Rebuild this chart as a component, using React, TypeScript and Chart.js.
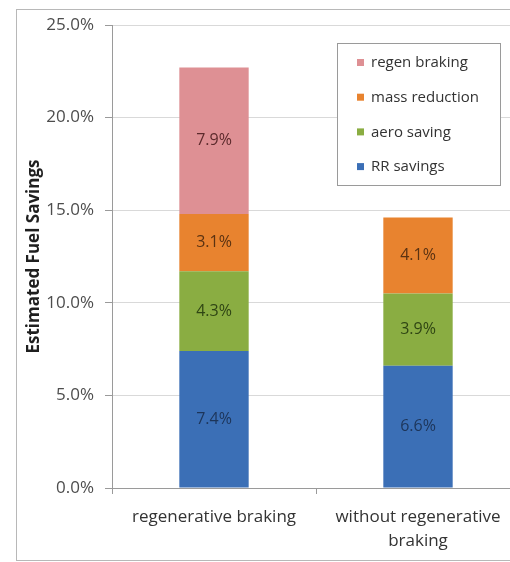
import React, { useEffect, useRef } from "react";
import { Chart, registerables } from "chart.js";

Chart.register(...registerables);

const categories: (string | string[])[] = ["regenerative braking", ["without regenerative", "braking"]];
const seriesNames = ["RR savings", "aero saving", "mass reduction", "regen braking"];
const rrSavings = [7.4, 6.6];
const aeroSaving = [4.3, 3.9];
const massReduction = [3.1, 4.1];
const regenBraking = [7.9, null];
const yTicks = [0, 5, 10, 15, 20, 25];

const barColors = ["#3b6fb6", "#8aad42", "#e8832f", "#de9094"];
const labelColors = ["#1d3559", "#2f4514", "#5a3212", "#5c2a2c"];

const FONT = "'Open Sans', 'DejaVu Sans', sans-serif";

const framePlugin = {
  id: "frame",
  beforeDraw(chart: any) {
    const ctx = chart.ctx;
    ctx.save();
    ctx.fillStyle = "#ffffff";
    ctx.fillRect(0, 0, chart.width, chart.height);
    ctx.strokeStyle = "#b8b8b8";
    ctx.lineWidth = 1;
    ctx.strokeRect(16.5, 9.5, 700, 551);
    ctx.restore();
  },
};

const valueLabelPlugin = {
  id: "valueLabels",
  afterDatasetsDraw(chart: any) {
    const ctx = chart.ctx;
    ctx.save();
    ctx.font = `16px ${FONT}`;
    ctx.textAlign = "center";
    ctx.textBaseline = "middle";
    chart.data.datasets.forEach((ds: any, i: number) => {
      const meta = chart.getDatasetMeta(i);
      meta.data.forEach((bar: any, j: number) => {
        const v = ds.data[j];
        if (v === null || v === undefined) return;
        const y = (bar.y + bar.base) / 2;
        ctx.fillStyle = labelColors[i];
        ctx.fillText(v.toFixed(1) + "%", bar.x, y);
      });
    });
    ctx.restore();
  },
};

const legendBoxPlugin = {
  id: "legendBox",
  afterDraw(chart: any) {
    const ctx = chart.ctx;
    const a = chart.chartArea;
    const left = a.left + 225;
    const top = a.top + 18;
    const w = 163;
    const h = 142;
    ctx.save();
    ctx.fillStyle = "#ffffff";
    ctx.fillRect(left, top, w, h);
    ctx.strokeStyle = "#9a9a9a";
    ctx.lineWidth = 1;
    ctx.strokeRect(left + 0.5, top + 0.5, w, h);
    ctx.font = `15px ${FONT}`;
    ctx.textBaseline = "middle";
    ctx.textAlign = "left";
    const n = chart.data.datasets.length;
    for (let k = 0; k < n; k++) {
      const idx = n - 1 - k;
      const ds = chart.data.datasets[idx];
      const cy = top + 20 + k * 34.7;
      ctx.fillStyle = ds.backgroundColor;
      ctx.fillRect(left + 20, cy - 4, 7, 7);
      ctx.fillStyle = "#333333";
      ctx.fillText(ds.label, left + 34, cy);
    }
    ctx.restore();
  },
};

function App() {
  const ref = useRef<HTMLCanvasElement>(null);
  useEffect(() => {
    if (!ref.current) return;
    const values = [rrSavings, aeroSaving, massReduction, regenBraking];
    const chart = new Chart(ref.current, {
      type: "bar",
      data: {
        labels: categories as any,
        datasets: seriesNames.map((name, i) => ({
          label: name,
          data: values[i] as any,
          backgroundColor: barColors[i],
          borderWidth: 0,
          barPercentage: 0.34,
          categoryPercentage: 1,
        })),
      },
      options: {
        responsive: false,
        animation: false,
        devicePixelRatio: 1,
        layout: { padding: { left: 20, right: 10, top: 25, bottom: 0 } },
        plugins: {
          legend: { display: false },
          tooltip: { enabled: false },
        },
        scales: {
          x: {
            stacked: true,
            afterFit: (s: any) => {
              s.height = 74;
            },
            grid: {
              display: true,
              drawOnChartArea: false,
              offset: true,
              tickLength: 6,
              tickColor: "#9a9a9a",
            },
            border: { color: "#9a9a9a" },
            ticks: {
              color: "#333333",
              font: { family: FONT, size: 17, lineHeight: 1.4 },
              padding: 11,
              maxRotation: 0,
            },
          },
          y: {
            stacked: true,
            min: 0,
            max: 25,
            afterFit: (s: any) => {
              s.width = 92;
            },
            afterBuildTicks: (s: any) => {
              s.ticks = yTicks.map((v) => ({ value: v }));
            },
            grid: {
              color: "#d9d9d9",
              tickColor: "#9a9a9a",
              tickLength: 7,
            },
            border: { color: "#9a9a9a" },
            ticks: {
              color: "#4d4d4d",
              font: { family: FONT, size: 17 },
              padding: 11,
              callback: (v: any) => Number(v).toFixed(1) + "%",
            },
            title: {
              display: true,
              text: "Estimated Fuel Savings",
              color: "#1f1f1f",
              font: { family: FONT, size: 17, weight: "bold" },
              padding: { top: 4, bottom: 0 },
            },
          },
        },
      },
      plugins: [framePlugin, valueLabelPlugin, legendBoxPlugin],
    });
    return () => chart.destroy();
  }, []);

  return (
    <div
      style={{
        position: "fixed",
        left: 0,
        top: 0,
        width: 510,
        height: 562,
        overflow: "hidden",
        background: "#fff",
      }}
    >
      <canvas ref={ref} width={530} height={562} style={{ display: "block" }} />
    </div>
  );
}

export default App;
